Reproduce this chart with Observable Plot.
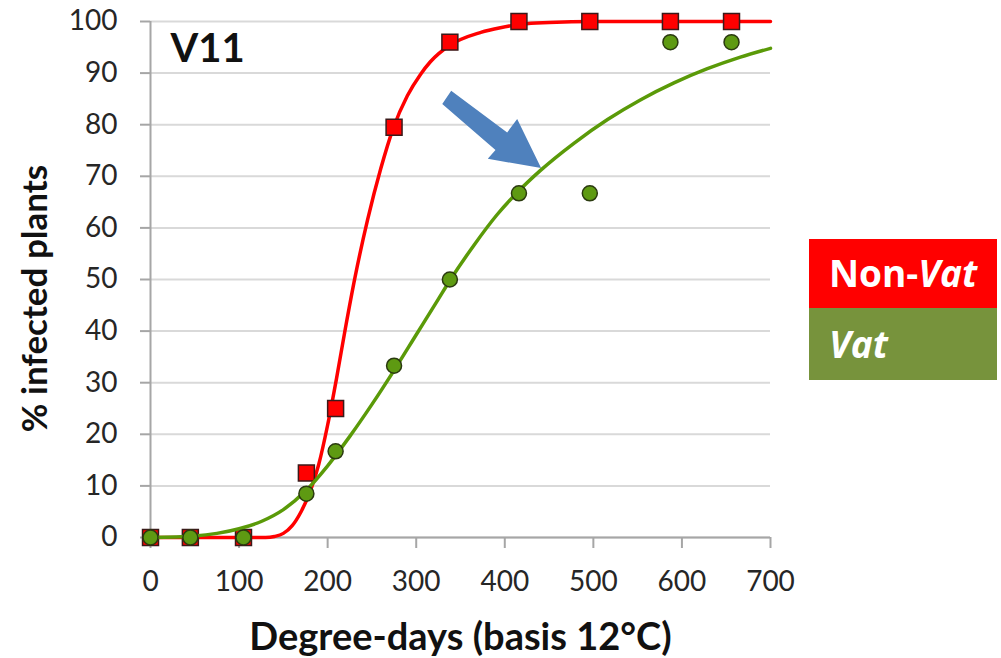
<!DOCTYPE html>
<html>
<head>
<meta charset="utf-8">
<script src="https://cdn.jsdelivr.net/npm/d3@7"></script>
<script src="https://cdn.jsdelivr.net/npm/@observablehq/plot@0.6"></script>
<style>
  html, body { margin: 0; padding: 0; background: #fff; }
  #wrap { position: relative; width: 1001px; height: 658px; font-family: Lato, "Open Sans", sans-serif; }
  #legend { position: absolute; left: 809px; top: 239px; width: 188px; }
  .lg { color: #fff; font-weight: bold; font-size: 37px; padding-left: 20px; box-sizing: border-box; font-family: "Open Sans", Lato, sans-serif; }
  .lg i { font-style: italic; }
</style>
</head>
<body>
<div id="wrap"><div id="legend">
  <div class="lg" style="background:#ff0000;height:69px;line-height:68px">Non-<i>Vat</i></div>
  <div class="lg" style="background:#77933c;height:72px;line-height:72px"><i>Vat</i></div>
</div></div>
<script>
// Observed points
const days = [0, 45, 105, 176, 209, 275, 338, 416, 496, 587, 656];
const nonVatObs = [0, 0, 0, 12.5, 25, 79.5, 96, 100, 100, 100, 100];
const vatObs = [0, 0, 0, 8.5, 16.7, 33.3, 50, 66.7, 66.7, 96, 96];

// Fitted curves
const nonVatCurveX = [0, 50, 100, 130, 140, 150, 160, 170, 180, 190, 200, 210, 220, 231, 245, 260, 274, 290, 305, 316, 337, 373, 395, 420, 450, 500, 700];
const nonVatCurveY = [0, 0, 0, 0, 0.2, 0.8, 2.3, 5.0, 8.8, 14.2, 21.8, 30.8, 40.5, 50.5, 61.5, 71.5, 79.3, 85.6, 89.8, 92.2, 95.3, 97.9, 98.8, 99.5, 99.8, 100, 100];
const vatCurveX = [0, 50, 75, 100, 125, 150, 175, 200, 225, 250, 275, 300, 325, 338, 365, 391, 416, 440, 478, 516, 553, 591, 628, 666, 700];
const vatCurveY = [0, 0.3, 0.8, 1.7, 3.1, 5.4, 9.0, 13.9, 19.6, 25.8, 32.4, 39.3, 46.2, 49.8, 56.6, 62.5, 67.2, 71.1, 76.4, 81.0, 84.8, 88.1, 90.8, 93.1, 94.8];

// Annotation arrow outline (data coordinates)
const arrowX = [339.5, 402.7, 414, 441, 380.8, 389.5, 329.4];
const arrowY = [86.6, 78.5, 81.1, 71.6, 73.4, 75.1, 84.0];

const xTicks = [0, 100, 200, 300, 400, 500, 600, 700];
const yTicks = [0, 10, 20, 30, 40, 50, 60, 70, 80, 90, 100];

const obs = days.map((d, i) => ({d, nv: nonVatObs[i], v: vatObs[i]}));
const nvCurve = nonVatCurveX.map((x, i) => ({x, y: nonVatCurveY[i]}));
const vCurve = vatCurveX.map((x, i) => ({x, y: vatCurveY[i]}));
const arrow = arrowX.map((x, i) => ({x, y: arrowY[i]}));

const axisColor = "#a6a6a6";
const chart = Plot.plot({
  width: 1001,
  height: 658,
  marginLeft: 150,
  marginRight: 231,
  marginTop: 21,
  marginBottom: 121,
  style: {fontFamily: "Lato, 'Open Sans', sans-serif", fontSize: "28px", color: "#262626", background: "transparent"},
  x: {domain: [0, 700]},
  y: {domain: [0, 100]},
  marks: [
    Plot.gridY(yTicks, {stroke: "#d9d9d9", strokeOpacity: 1, strokeWidth: 2}),
    Plot.ruleX([0], {stroke: axisColor, strokeWidth: 2}),
    Plot.ruleY([0], {stroke: axisColor, strokeWidth: 2}),
    Plot.axisY(yTicks, {tickSize: 10, tickPadding: 23, stroke: axisColor, strokeWidth: 2, fill: "#262626", label: null, tickFormat: d => d}),
    Plot.axisX(xTicks, {tickSize: 11, tickPadding: 23, stroke: axisColor, strokeWidth: 2, fill: "#262626", label: null, tickFormat: d => d}),
    Plot.line(nvCurve, {x: "x", y: "y", stroke: "#ff0000", strokeWidth: 3.5, curve: "monotone-x"}),
    Plot.dot(obs, {x: "d", y: "nv", symbol: "square", r: 9, fill: "#ff0000", stroke: "#3a1a1a", strokeWidth: 1.5}),
    Plot.line(vCurve, {x: "x", y: "y", stroke: "#5a9a08", strokeWidth: 3.5, curve: "monotone-x"}),
    Plot.dot(obs, {x: "d", y: "v", r: 7.5, fill: "#5e9a12", stroke: "#2b3a10", strokeWidth: 1.5}),
    Plot.line(arrow, {x: "x", y: "y", fill: "#4f81bd", stroke: "none"}),
    Plot.text(["V11"], {frameAnchor: "top-left", dx: 20, dy: 12, fontSize: 40, fontWeight: "bold", fill: "#111", textAnchor: "start", lineAnchor: "top"}),
    Plot.text(["Degree-days (basis 12°C)"], {frameAnchor: "bottom", dy: 112, fontSize: 38, fontWeight: "bold", fill: "#111", textAnchor: "middle", lineAnchor: "bottom"}),
    Plot.text(["% infected plants"], {frameAnchor: "left", dx: -115, dy: 19, rotate: -90, fontSize: 35, fontWeight: "bold", fill: "#111", textAnchor: "middle"})
  ]
});
document.getElementById("wrap").prepend(chart);
chart.style.position = "absolute";
chart.style.left = "0";
chart.style.top = "0";
</script>
</body>
</html>
